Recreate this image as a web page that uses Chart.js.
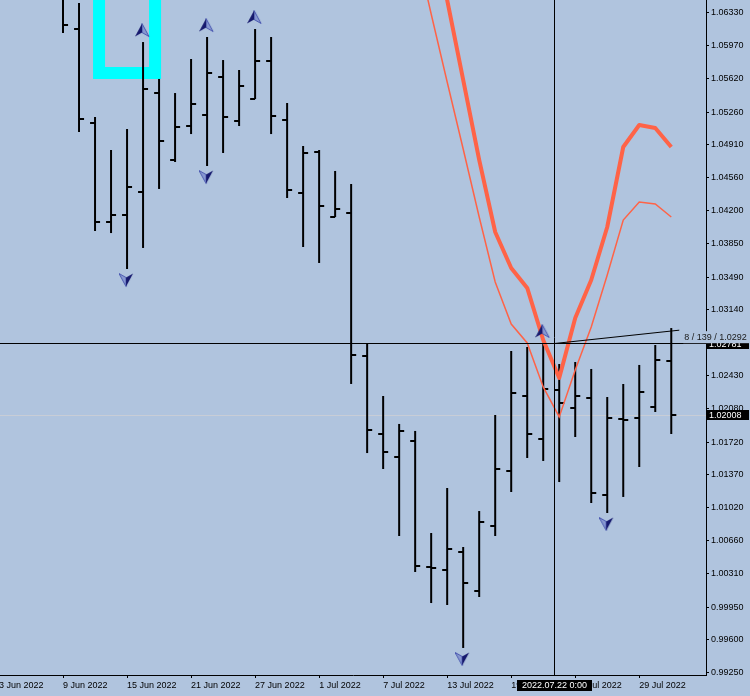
<!DOCTYPE html>
<html>
<head>
<meta charset="utf-8">
<style>
  html, body { margin: 0; padding: 0; background: #B0C4DE; }
  canvas { display: block; }
</style>
<script src="https://cdn.jsdelivr.net/npm/chart.js@4.4.0/dist/chart.umd.min.js"></script>
</head>
<body>
<canvas id="eurusdChart" width="750" height="696"></canvas>
<script>
// daily bars, EURUSD D1
const dates = ['3 Jun 2022', '6 Jun 2022', '7 Jun 2022', '8 Jun 2022', '9 Jun 2022', '10 Jun 2022',
  '13 Jun 2022', '14 Jun 2022', '15 Jun 2022', '16 Jun 2022', '17 Jun 2022', '20 Jun 2022',
  '21 Jun 2022', '22 Jun 2022', '23 Jun 2022', '24 Jun 2022', '27 Jun 2022', '28 Jun 2022',
  '29 Jun 2022', '30 Jun 2022', '1 Jul 2022', '4 Jul 2022', '5 Jul 2022', '6 Jul 2022',
  '7 Jul 2022', '8 Jul 2022', '11 Jul 2022', '12 Jul 2022', '13 Jul 2022', '14 Jul 2022',
  '15 Jul 2022', '18 Jul 2022', '19 Jul 2022', '20 Jul 2022', '21 Jul 2022', '22 Jul 2022',
  '25 Jul 2022', '26 Jul 2022', '27 Jul 2022', '28 Jul 2022', '29 Jul 2022', '1 Aug 2022',
  '2 Aug 2022'];

const firstBar = '9 Jun 2022';
const opens = [1.0716, 1.06151, 1.05143, 1.04080, 1.04156, 1.04402, 1.05464, 1.04746, 1.05110,
  1.05228, 1.05636, 1.05164, 1.05400, 1.05808, 1.05175, 1.04392, 1.04831, 1.04134, 1.04177,
  1.02643, 1.01806, 1.01560, 1.01731, 1.00380, 1.00347, 1.00541, 1.00122, 1.00819, 1.01409,
  1.02214, 1.01753, 1.02278, 1.02085, 1.02193, 1.01152, 1.01967, 1.01978, 1.02096, 1.02589];
const highs = [1.0774, 1.06430, 1.05207, 1.04853, 1.05078, 1.06011, 1.05615, 1.05464, 1.05829,
  1.06065, 1.05818, 1.05711, 1.06151, 1.06065, 1.05357, 1.04896, 1.04853, 1.04628, 1.04488,
  1.02772, 1.02214, 1.01914, 1.01839, 1.00744, 1.01227, 1.00594, 1.00980, 1.02010, 1.02697,
  1.02740, 1.02783, 1.02557, 1.02579, 1.02504, 1.02203, 1.02343, 1.02547, 1.02761, 1.02943];
const lows = [1.06108, 1.05046, 1.03984, 1.03962, 1.03576, 1.03802, 1.04435, 1.04724, 1.05024,
  1.04681, 1.04821, 1.05110, 1.05400, 1.05024, 1.04338, 1.03812, 1.03641, 1.04134, 1.02343,
  1.01602, 1.01431, 1.00712, 1.00326, 0.99993, 0.99972, 0.99511, 1.00058, 1.00712, 1.01184,
  1.01549, 1.01517, 1.01291, 1.01774, 1.01066, 1.00959, 1.01131, 1.01452, 1.02042, 1.01806];
const closes = [1.06194, 1.05185, 1.04080, 1.04156, 1.04456, 1.05507, 1.04949, 1.05100, 1.05346,
  1.05679, 1.05207, 1.05539, 1.05808, 1.05218, 1.04424, 1.04821, 1.04252, 1.04220, 1.02654,
  1.01849, 1.01613, 1.01839, 1.00390, 1.00369, 1.00573, 1.00208, 1.00862, 1.01431, 1.02246,
  1.01806, 1.02289, 1.02139, 1.02214, 1.01173, 1.01978, 1.01960, 1.02257, 1.02600, 1.02008];

// two indicator lines (thick and thin)
const thickStart = '12 Jul 2022';
const thickLine = [1.07320, 1.06462, 1.05604, 1.04746, 1.03973, 1.03587, 1.03373, 1.02815,
  1.02407, 1.03051, 1.03458, 1.04027, 1.04885, 1.05121, 1.05089, 1.04885];
const thinStart = '11 Jul 2022';
const thinLine = [1.07063, 1.06312, 1.05582, 1.04864, 1.04134, 1.03437, 1.02986, 1.02783,
  1.02311, 1.01989, 1.02493, 1.02954, 1.03512, 1.04102, 1.04295, 1.04274, 1.04134];

const upFractals = ['16 Jun 2022', '22 Jun 2022', '27 Jun 2022', '21 Jul 2022'];
const downFractals = ['15 Jun 2022', '22 Jun 2022', '14 Jul 2022', '27 Jul 2022'];

const xTickLabels = ['3 Jun 2022', '9 Jun 2022', '15 Jun 2022', '21 Jun 2022', '27 Jun 2022',
  '1 Jul 2022', '7 Jul 2022', '13 Jul 2022', '19 Jul 2022', '25 Jul 2022', '29 Jul 2022'];
const yTickLabels = ['0.99250', '0.99600', '0.99950', '1.00310', '1.00660', '1.01020', '1.01370',
  '1.01720', '1.02080', '1.02430', '1.02780', '1.03140', '1.03490', '1.03850', '1.04200',
  '1.04560', '1.04910', '1.05260', '1.05620', '1.05970', '1.06330'];

// drawn objects on the chart (bar position, price)
const boxLeft = 6.25, boxRight = 9.75, boxBottom = 1.05679, boxTop = 1.08;
const crossPos = 34.69, crossPrice = 1.02781, crossTime = '2022.07.22 0:00';
const trendEndPos = 42.5, trendEndPrice = 1.0292, trendText = '8 / 139 / 1.0292';

const FONT = '"Liberation Sans", Arial, sans-serif';
const off = dates.indexOf(firstBar);
const lastPrice = closes[closes.length - 1];

function tickImage(left) {
  const c = document.createElement('canvas');
  c.width = 12; c.height = 2;
  const g = c.getContext('2d');
  g.fillStyle = '#000';
  g.fillRect(left ? 1 : 6, 0, 5, 2);
  return c;
}

function arrowImage(up) {
  const c = document.createElement('canvas');
  c.width = 16; c.height = 38;
  const g = c.getContext('2d');
  if (!up) g.setTransform(-1, 0, 0, -1, 14, 37);
  g.beginPath();
  g.moveTo(7, 0.5); g.lineTo(14, 13.5); g.lineTo(7, 9.5); g.closePath();
  g.fillStyle = 'rgba(110,125,200,0.6)';
  g.fill();
  g.strokeStyle = '#4a58b0';
  g.lineWidth = 1;
  g.stroke();
  g.beginPath();
  g.moveTo(7, 0.5); g.lineTo(0, 13.5); g.lineTo(7, 9.5); g.closePath();
  g.fillStyle = '#16196e';
  g.fill();
  return c;
}

const pos = d => dates.indexOf(d);
const barData = highs.map((h, i) => ({ x: i + off, y: [lows[i], h] }));
const openData = opens.map((v, i) => ({ x: i + off, y: v }));
const closeData = closes.map((v, i) => ({ x: i + off, y: v }));
const thickData = thickLine.map((v, i) => ({ x: pos(thickStart) + i, y: v }));
const thinData = thinLine.map((v, i) => ({ x: pos(thinStart) + i, y: v }));
const upData = upFractals.map(d => ({ x: pos(d), y: highs[pos(d) - off] }));
const downData = downFractals.map(d => ({ x: pos(d), y: lows[pos(d) - off] }));

function priceTag(ctx, a, y, text) {
  ctx.fillStyle = '#000';
  ctx.fillRect(a.right + 1, Math.round(y) - 5, 42, 10);
  ctx.fillStyle = '#fff';
  ctx.fillText(text, a.right + 3, Math.round(y) + 0.5);
}

function noPadding(s) {
  s.paddingTop = 0; s.paddingBottom = 0; s.paddingLeft = 0; s.paddingRight = 0;
}

const overlay = {
  id: 'overlay',
  beforeDraw(chart) {
    const { ctx, width, height } = chart;
    ctx.save();
    ctx.fillStyle = '#B0C4DE';
    ctx.fillRect(0, 0, width, height);
    ctx.restore();
  },
  beforeDatasetsDraw(chart) {
    const { ctx, chartArea: a, scales: { y } } = chart;
    const py = Math.round(y.getPixelForValue(lastPrice)) + 0.5;
    ctx.save();
    ctx.strokeStyle = '#C8CDD6';
    ctx.lineWidth = 1;
    ctx.beginPath();
    ctx.moveTo(a.left, py); ctx.lineTo(a.right, py);
    ctx.stroke();
    ctx.restore();
  },
  afterDraw(chart) {
    const { ctx, chartArea: a, scales: { x, y } } = chart;
    const cx = Math.round(x.getPixelForValue(crossPos)) + 0.5;
    const cy = Math.round(y.getPixelForValue(crossPrice)) + 0.5;
    const tx = x.getPixelForValue(trendEndPos);
    const ty = y.getPixelForValue(trendEndPrice);
    ctx.save();
    ctx.strokeStyle = '#000';
    ctx.lineWidth = 1;
    ctx.beginPath();
    ctx.moveTo(cx, a.top); ctx.lineTo(cx, a.bottom);
    ctx.moveTo(a.left, cy); ctx.lineTo(a.right, cy);
    ctx.stroke();
    ctx.beginPath();
    ctx.moveTo(cx, cy); ctx.lineTo(tx, ty);
    ctx.stroke();

    ctx.font = '9px ' + FONT;
    ctx.textBaseline = 'middle';
    ctx.textAlign = 'left';
    priceTag(ctx, a, y.getPixelForValue(lastPrice), lastPrice.toFixed(5));
    priceTag(ctx, a, cy, crossPrice.toFixed(5));

    // ruler text over the tag
    const w = ctx.measureText(trendText).width;
    ctx.fillStyle = '#B0C4DE';
    ctx.fillRect(tx + 4, ty + 1, w + 4, Math.round(cy) - 2 - Math.round(ty));
    ctx.fillStyle = '#1a1a1a';
    ctx.fillText(trendText, tx + 5, ty + 7);

    // time tag on the bottom axis
    ctx.fillStyle = '#000';
    ctx.fillRect(Math.round(cx - 38), a.bottom + 5, 75, 11);
    ctx.fillStyle = '#fff';
    ctx.textAlign = 'center';
    ctx.fillText(crossTime, cx, a.bottom + 11);
    ctx.restore();
  }
};

const ctx = document.getElementById('eurusdChart').getContext('2d');

new Chart(ctx, {
  type: 'bar',
  data: {
    datasets: [
      {
        type: 'line', data: upData, showLine: false, order: 0,
        pointStyle: arrowImage(true), pointRadius: 3
      },
      {
        type: 'line', data: downData, showLine: false, order: 0,
        pointStyle: arrowImage(false), pointRadius: 3
      },
      {
        type: 'line', data: thickData, order: 1, borderColor: '#FF6347',
        borderWidth: 4, pointRadius: 0, tension: 0, borderJoinStyle: 'round'
      },
      {
        type: 'line', data: thinData, order: 1, borderColor: '#FF6347',
        borderWidth: 1.5, pointRadius: 0, tension: 0
      },
      {
        type: 'line', data: openData, showLine: false, order: 2,
        pointStyle: tickImage(true), pointRadius: 3
      },
      {
        type: 'line', data: closeData, showLine: false, order: 2,
        pointStyle: tickImage(false), pointRadius: 3
      },
      {
        type: 'bar', data: barData, order: 3, backgroundColor: '#000',
        borderWidth: 0, barThickness: 2, inflateAmount: 0, grouped: false
      },
      {
        type: 'line', order: 4, borderColor: '#00FFFF', borderWidth: 12,
        pointRadius: 0, tension: 0, borderJoinStyle: 'miter',
        data: [
          { x: boxLeft, y: boxTop }, { x: boxLeft, y: boxBottom },
          { x: boxRight, y: boxBottom }, { x: boxRight, y: boxTop }
        ]
      }
    ]
  },
  options: {
    responsive: false,
    animation: false,
    devicePixelRatio: 1,
    layout: { padding: 0, autoPadding: false },
    plugins: {
      legend: { display: false },
      tooltip: { enabled: false }
    },
    events: [],
    scales: {
      x: {
        type: 'linear',
        position: 'bottom',
        min: 0.0625,
        max: 44.17,
        offset: false,
        afterBuildTicks: s => { s.ticks = xTickLabels.map(l => ({ value: dates.indexOf(l) })); },
        afterFit: s => { s.height = 21; noPadding(s); },
        grid: { offset: false, drawOnChartArea: false, drawTicks: true, tickLength: 3, color: '#000' },
        border: { display: true, color: '#000', width: 1 },
        ticks: {
          autoSkip: false, maxRotation: 0, minRotation: 0, align: 'start', padding: 2,
          color: '#000', font: { family: FONT, size: 9 },
          callback: v => dates[v]
        }
      },
      y: {
        type: 'linear',
        position: 'right',
        min: 0.99221,
        max: 1.06462,
        afterBuildTicks: s => { s.ticks = yTickLabels.map(l => ({ value: parseFloat(l) })); },
        afterFit: s => { s.width = 44; noPadding(s); },
        grid: { drawOnChartArea: false, drawTicks: true, tickLength: 3, color: '#000' },
        border: { display: true, color: '#000', width: 1 },
        ticks: {
          autoSkip: false, padding: 2, color: '#000', font: { family: FONT, size: 9 },
          callback: v => v.toFixed(5)
        }
      }
    }
  },
  plugins: [overlay]
});
</script>
</body>
</html>
